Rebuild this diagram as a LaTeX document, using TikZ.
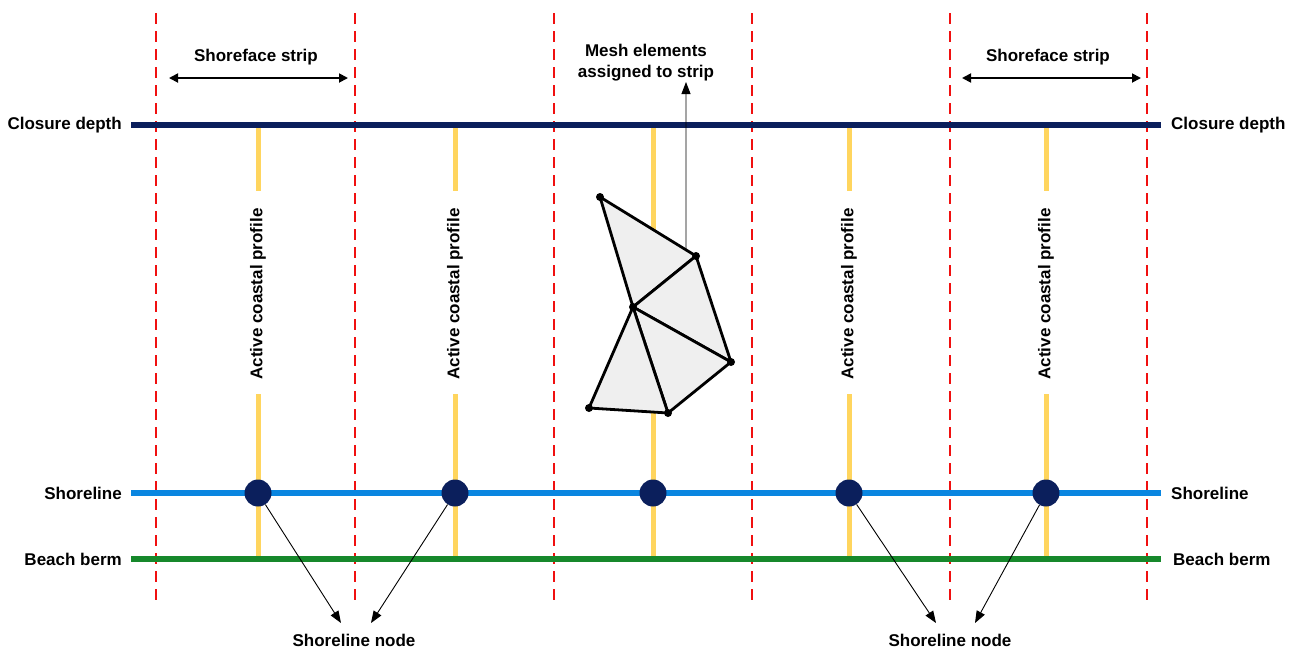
\documentclass[tikz,border=0pt]{standalone}
\usepackage{fontspec}
\setmainfont{Liberation Sans}
\usetikzlibrary{arrows.meta,calc}
\definecolor{navy}{HTML}{0B1F5C}
\definecolor{shoreblue}{HTML}{0A86E0}
\definecolor{bermgreen}{HTML}{16882B}
\definecolor{profyellow}{HTML}{FFD55E}
\definecolor{stripred}{HTML}{F01010}
\definecolor{meshgray}{HTML}{EFEFEF}
\tikzset{
  lbl/.style={font=\fontsize{17}{20}\selectfont\bfseries, inner sep=0pt},
  stripline/.style={stripred, line width=2.8pt, dash pattern=on 11pt off 7pt},
  level/.style={line width=5.5pt},
  profile/.style={profyellow, line width=5pt},
  snode/.style={circle, fill=navy, minimum size=27pt, inner sep=0pt},
  thinarrow/.style={line width=0.9pt, -{Triangle[length=12pt,width=9pt]}},
  mesh/.style={fill=meshgray, draw=black, line width=2.8pt, line join=round},
  vdot/.style={circle, fill=black, minimum size=8pt, inner sep=0pt},
}
\begin{document}
\begin{tikzpicture}[x=1pt,y=-1pt]
\useasboundingbox (0,0) rectangle (1299,649);
% strip boundaries
\foreach \x in {156,355,554,752,950,1147}{
  \draw[stripline] (\x,13) -- (\x,600);
}
% profiles
\foreach \x/\n in {258/1,455/2,849/4,1046/5}{
  \draw[profile] (\x,127) -- (\x,191);
  \draw[profile] (\x,394) -- (\x,556);
  \node[lbl, rotate=90] (p\n) at (\x,294) {Active coastal profile};
}
\draw[profile] (653,127) -- (653,556);
% level lines
\coordinate (cdL) at (131,125); \coordinate (cdR) at (1161,125);
\coordinate (slL) at (131,493); \coordinate (slR) at (1161,493);
\coordinate (bbL) at (131,559); \coordinate (bbR) at (1161,559);
\draw[level, navy] (cdL) -- (cdR);
\draw[level, shoreblue] (slL) -- (slR);
\draw[level, bermgreen] (bbL) -- (bbR);
\node[lbl, anchor=east] (cdl) at (122,125) {Closure depth};
\node[lbl, anchor=east] (sll) at (122,493) {Shoreline};
\node[lbl, anchor=east] (bbl) at (122,559) {Beach berm};
\node[lbl, anchor=west] (cdr) at (1171,125) {Closure depth};
\node[lbl, anchor=west] (slr) at (1171,493) {Shoreline};
\node[lbl, anchor=west] (bbr) at (1173,559) {Beach berm};
% shoreline nodes
\node[snode] (n1) at (258,493) {};
\node[snode] (n2) at (455,493) {};
\node[snode] (n3) at (653,493) {};
\node[snode] (n4) at (849,493) {};
\node[snode] (n5) at (1046,493) {};
% shoreline node labels
\node[lbl] (snA) at (354,640) {Shoreline node};
\node[lbl] (snB) at (950,640) {Shoreline node};
\coordinate (a1) at (341,623);
\coordinate (a2) at (371,623);
\coordinate (a4) at (936,623);
\coordinate (a5) at (975,623);
\draw[thinarrow] (n1) -- (a1);
\draw[thinarrow] (n2) -- (a2);
\draw[thinarrow] (n4) -- (a4);
\draw[thinarrow] (n5) -- (a5);
% shoreface strip
\node[lbl] (sfA) at (256,57) {Shoreface strip};
\node[lbl] (sfB) at (1048,57) {Shoreface strip};
\coordinate (sfA1) at (169,78); \coordinate (sfA2) at (348,78);
\coordinate (sfB1) at (962,78); \coordinate (sfB2) at (1141,78);
\draw[line width=1.8pt, {Triangle[length=9pt,width=9pt]}-{Triangle[length=9pt,width=9pt]}] (sfA1) -- (sfA2);
\draw[line width=1.8pt, {Triangle[length=9pt,width=9pt]}-{Triangle[length=9pt,width=9pt]}] (sfB1) -- (sfB2);
% mesh
\coordinate (A) at (600,197);
\coordinate (B) at (696,256);
\coordinate (C) at (633,307);
\coordinate (D) at (731,362);
\coordinate (E) at (589,408);
\coordinate (F) at (668,413);
\filldraw[mesh] (A) -- (B) -- (C) -- cycle;
\filldraw[mesh] (B) -- (D) -- (C) -- cycle;
\filldraw[mesh] (C) -- (D) -- (F) -- cycle;
\filldraw[mesh] (C) -- (F) -- (E) -- cycle;
\foreach \v in {A,B,C,D,E,F}{ \node[vdot] at (\v) {}; }
\node[lbl, align=center, font=\fontsize{17}{21}\selectfont\bfseries] (me) at (646,63) {Mesh elements\\assigned to strip};
\coordinate (mstart) at ($(A)!0.896!(B)$);
\coordinate (mend) at (686,82);
\draw[thinarrow] (mstart) -- (mend);
\end{tikzpicture}
\end{document}
